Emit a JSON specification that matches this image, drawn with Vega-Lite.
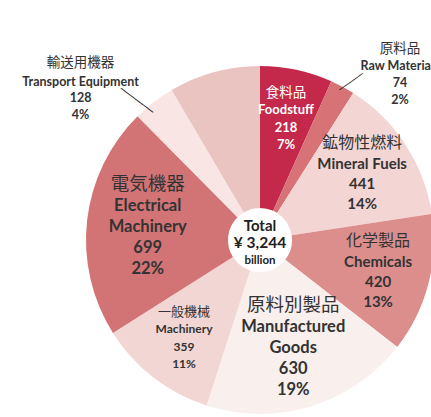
{
  "$schema": "https://vega.github.io/schema/vega-lite/v6.json",
  "width": 520,
  "height": 480,
  "autosize": "none",
  "padding": {"left": 0, "top": 0, "right": -89, "bottom": -63},
  "background": "white",
  "config": {"view": {"stroke": null}, "text": {"font": "Lato"}},
  "layer": [
    {
      "data": {
        "values": [
          {"idx": 1, "jp": "食料品", "en": "Foodstuff", "value": 218, "share": "7%"},
          {"idx": 2, "jp": "原料品", "en": "Raw Materials", "value": 74, "share": "2%"},
          {"idx": 3, "jp": "鉱物性燃料", "en": "Mineral Fuels", "value": 441, "share": "14%"},
          {"idx": 4, "jp": "化学製品", "en": "Chemicals", "value": 420, "share": "13%"},
          {"idx": 5, "jp": "原料別製品", "en": "Manufactured Goods", "value": 630, "share": "19%"},
          {"idx": 6, "jp": "一般機械", "en": "Machinery", "value": 359, "share": "11%"},
          {"idx": 7, "jp": "電気機器", "en": "Electrical Machinery", "value": 699, "share": "22%"},
          {"idx": 8, "jp": "輸送用機器", "en": "Transport Equipment", "value": 128, "share": "4%"},
          {"idx": 9, "jp": "その他", "en": "Others", "value": 275, "share": "8%"}
        ]
      },
      "encoding": {
        "theta": {"field": "value", "type": "quantitative", "stack": true},
        "order": {"field": "idx", "type": "quantitative"}
      },
      "layer": [
        {
          "mark": {"type": "arc", "outerRadius": 174, "innerRadius": 32},
          "encoding": {
            "color": {
              "field": "en", "type": "nominal", "legend": null,
              "scale": {
                "domain": ["Foodstuff", "Raw Materials", "Mineral Fuels", "Chemicals", "Manufactured Goods", "Machinery", "Electrical Machinery", "Transport Equipment", "Others"],
                "range": ["#C4284A", "#D77376", "#F3D6D4", "#DC8E8D", "#F9EFED", "#F2D6D3", "#D27475", "#F9E5E3", "#EAC4C0"]
              }
            }
          }
        },
        {
          "mark": {"type": "text", "radius": 122, "dy": -30, "font": "Noto Sans CJK JP", "fontSize": 16, "color": "#333", "baseline": "middle"},
          "encoding": {"text": {"condition": {"test": "datum.en === 'Mineral Fuels' || datum.en === 'Chemicals'", "field": "jp"}, "value": ""}}
        },
        {
          "mark": {"type": "text", "radius": 122, "dy": -9, "fontSize": 15, "fontWeight": "bold", "color": "#333", "baseline": "middle"},
          "encoding": {"text": {"condition": {"test": "datum.en === 'Mineral Fuels' || datum.en === 'Chemicals'", "field": "en"}, "value": ""}}
        },
        {
          "mark": {"type": "text", "radius": 122, "dy": 11, "fontSize": 15, "fontWeight": "bold", "color": "#333", "baseline": "middle"},
          "encoding": {"text": {"condition": {"test": "datum.en === 'Mineral Fuels' || datum.en === 'Chemicals'", "field": "value", "type": "quantitative"}, "value": ""}}
        },
        {
          "mark": {"type": "text", "radius": 122, "dy": 31, "fontSize": 15, "fontWeight": "bold", "color": "#333", "baseline": "middle"},
          "encoding": {"text": {"condition": {"test": "datum.en === 'Mineral Fuels' || datum.en === 'Chemicals'", "field": "share"}, "value": ""}}
        },
        {
          "mark": {"type": "text", "radius": 124, "dy": -26, "font": "Noto Sans CJK JP", "baseline": "middle"},
          "encoding": {
            "text": {"condition": {"test": "datum.en === 'Foodstuff' || datum.en === 'Machinery'", "field": "jp"}, "value": ""},
            "color": {"condition": {"test": "datum.en === 'Foodstuff'", "value": "#ffffff"}, "value": "#333"},
            "size": {"condition": {"test": "datum.en === 'Foodstuff'", "value": 13.5}, "value": 13}
          }
        },
        {
          "mark": {"type": "text", "radius": 124, "dy": -8.5, "fontWeight": "bold", "baseline": "middle"},
          "encoding": {
            "text": {"condition": {"test": "datum.en === 'Foodstuff' || datum.en === 'Machinery'", "field": "en"}, "value": ""},
            "color": {"condition": {"test": "datum.en === 'Foodstuff'", "value": "#ffffff"}, "value": "#333"},
            "size": {"condition": {"test": "datum.en === 'Foodstuff'", "value": 13}, "value": 12}
          }
        },
        {
          "mark": {"type": "text", "radius": 124, "dy": 9, "fontWeight": "bold", "baseline": "middle"},
          "encoding": {
            "text": {"condition": {"test": "datum.en === 'Foodstuff' || datum.en === 'Machinery'", "field": "value", "type": "quantitative"}, "value": ""},
            "color": {"condition": {"test": "datum.en === 'Foodstuff'", "value": "#ffffff"}, "value": "#333"},
            "size": {"condition": {"test": "datum.en === 'Foodstuff'", "value": 13}, "value": 12}
          }
        },
        {
          "mark": {"type": "text", "radius": 124, "dy": 26.5, "fontWeight": "bold", "baseline": "middle"},
          "encoding": {
            "text": {"condition": {"test": "datum.en === 'Foodstuff' || datum.en === 'Machinery'", "field": "share"}, "value": ""},
            "color": {"condition": {"test": "datum.en === 'Foodstuff'", "value": "#ffffff"}, "value": "#333"},
            "size": {"condition": {"test": "datum.en === 'Foodstuff'", "value": 13}, "value": 12}
          }
        },
        {
          "mark": {"type": "text", "radius": 113, "dy": -43, "font": "Noto Sans CJK JP", "fontSize": 18.5, "color": "#333", "baseline": "middle"},
          "encoding": {"text": {"condition": {"test": "datum.en === 'Electrical Machinery' || datum.en === 'Manufactured Goods'", "field": "jp"}, "value": ""}}
        },
        {
          "mark": {"type": "text", "radius": 113, "dy": -21, "fontSize": 16.5, "fontWeight": "bold", "color": "#333", "baseline": "middle", "lineBreak": " ", "lineHeight": 21},
          "encoding": {"text": {"condition": {"test": "datum.en === 'Electrical Machinery' || datum.en === 'Manufactured Goods'", "field": "en"}, "value": ""}}
        },
        {
          "mark": {"type": "text", "radius": 113, "dy": 21, "fontSize": 16.5, "fontWeight": "bold", "color": "#333", "baseline": "middle"},
          "encoding": {"text": {"condition": {"test": "datum.en === 'Electrical Machinery' || datum.en === 'Manufactured Goods'", "field": "value", "type": "quantitative"}, "value": ""}}
        },
        {
          "mark": {"type": "text", "radius": 113, "dy": 42, "fontSize": 16.5, "fontWeight": "bold", "color": "#333", "baseline": "middle"},
          "encoding": {"text": {"condition": {"test": "datum.en === 'Electrical Machinery' || datum.en === 'Manufactured Goods'", "field": "share"}, "value": ""}}
        },
        {
          "mark": {"type": "text", "radius": 230, "dx": -39, "dy": 5, "font": "Noto Sans CJK JP", "fontSize": 13.5, "color": "#333", "baseline": "middle"},
          "encoding": {"text": {"condition": {"test": "datum.en === 'Transport Equipment'", "field": "jp"}, "value": ""}}
        },
        {
          "mark": {"type": "text", "radius": 230, "dx": -39, "dy": 24, "fontSize": 12.5, "fontWeight": "bold", "color": "#333", "baseline": "middle"},
          "encoding": {"text": {"condition": {"test": "datum.en === 'Transport Equipment'", "field": "en"}, "value": ""}}
        },
        {
          "mark": {"type": "text", "radius": 230, "dx": -39, "dy": 40, "fontSize": 12.5, "fontWeight": "bold", "color": "#333", "baseline": "middle"},
          "encoding": {"text": {"condition": {"test": "datum.en === 'Transport Equipment'", "field": "value", "type": "quantitative"}, "value": ""}}
        },
        {
          "mark": {"type": "text", "radius": 230, "dx": -39, "dy": 57, "fontSize": 12.5, "fontWeight": "bold", "color": "#333", "baseline": "middle"},
          "encoding": {"text": {"condition": {"test": "datum.en === 'Transport Equipment'", "field": "share"}, "value": ""}}
        },
        {
          "mark": {"type": "text", "radius": 230, "dx": 31, "dy": 11.5, "font": "Noto Sans CJK JP", "fontSize": 13.5, "color": "#333", "baseline": "middle"},
          "encoding": {"text": {"condition": {"test": "datum.en === 'Raw Materials'", "field": "jp"}, "value": ""}}
        },
        {
          "mark": {"type": "text", "radius": 230, "dx": 31, "dy": 28.5, "fontSize": 12.5, "fontWeight": "bold", "color": "#333", "baseline": "middle"},
          "encoding": {"text": {"condition": {"test": "datum.en === 'Raw Materials'", "field": "en"}, "value": ""}}
        },
        {
          "mark": {"type": "text", "radius": 230, "dx": 31, "dy": 45.5, "fontSize": 12.5, "fontWeight": "bold", "color": "#333", "baseline": "middle"},
          "encoding": {"text": {"condition": {"test": "datum.en === 'Raw Materials'", "field": "value", "type": "quantitative"}, "value": ""}}
        },
        {
          "mark": {"type": "text", "radius": 230, "dx": 31, "dy": 62.5, "fontSize": 12.5, "fontWeight": "bold", "color": "#333", "baseline": "middle"},
          "encoding": {"text": {"condition": {"test": "datum.en === 'Raw Materials'", "field": "share"}, "value": ""}}
        },
        {
          "mark": {"type": "text", "radius": 186, "angle": 37, "dx": -3, "dy": 12, "font": "DejaVu Sans", "fontSize": 9.5, "color": "#222", "baseline": "middle"},
          "encoding": {"text": {"condition": {"test": "datum.en === 'Transport Equipment'", "value": "───────"}, "value": ""}}
        },
        {
          "mark": {"type": "text", "radius": 183, "angle": 325, "dx": 2, "dy": 5, "font": "DejaVu Sans", "fontSize": 9.5, "color": "#222", "baseline": "middle"},
          "encoding": {"text": {"condition": {"test": "datum.en === 'Raw Materials'", "value": "─────"}, "value": ""}}
        }
      ]
    },
    {
      "data": {"values": [{"label": "Total"}]},
      "mark": {"type": "text", "dy": -14, "fontSize": 15, "fontWeight": "bold", "color": "#222", "baseline": "middle"},
      "encoding": {"text": {"field": "label"}}
    },
    {
      "data": {"values": [{"label": "¥ 3,244"}]},
      "mark": {"type": "text", "dy": 3, "fontSize": 15.5, "fontWeight": "bold", "color": "#222", "baseline": "middle"},
      "encoding": {"text": {"field": "label"}}
    },
    {
      "data": {"values": [{"label": "billion"}]},
      "mark": {"type": "text", "dy": 21, "fontSize": 11.5, "fontWeight": "bold", "color": "#222", "baseline": "middle"},
      "encoding": {"text": {"field": "label"}}
    }
  ]
}
